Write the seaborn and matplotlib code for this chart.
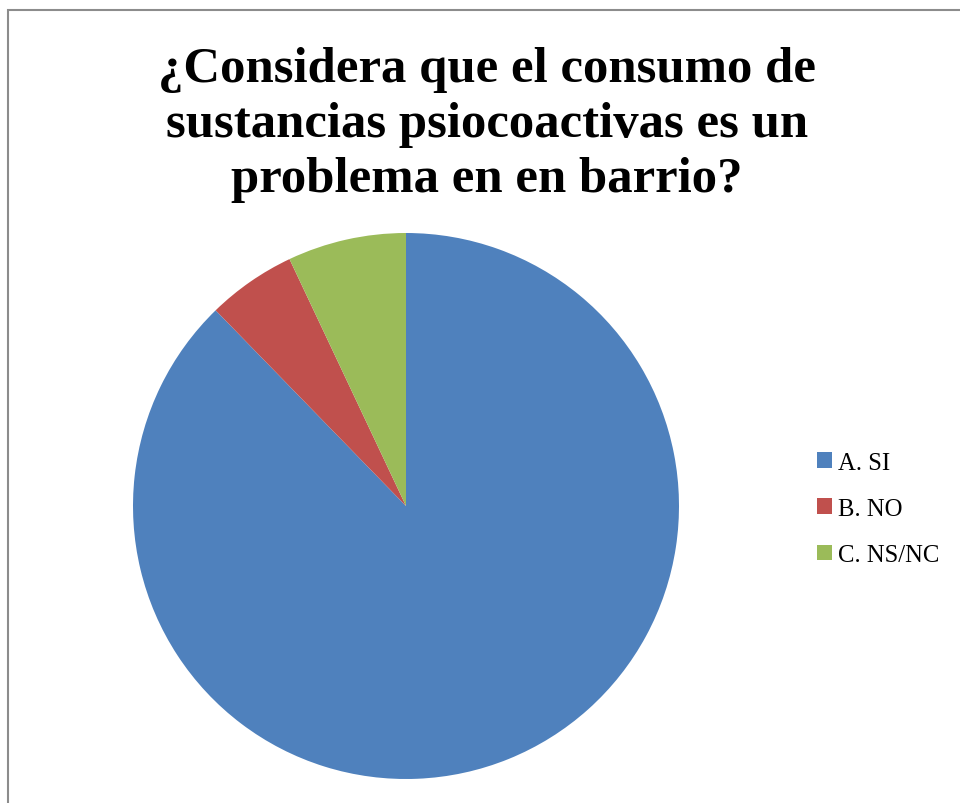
import matplotlib
matplotlib.use("Agg")
import matplotlib.pyplot as plt
import seaborn as sns
from matplotlib.patches import Rectangle, Patch

categories = ["A. SI", "B. NO", "C. NS/NC"]
counts = [50, 3, 4]
colors = ["#4F81BD", "#C0504D", "#9BBB59"]
title = "¿Considera que el consumo de\nsustancias psiocoactivas es un\nproblema en en barrio?"

sns.set_style("white")
plt.rcParams['font.family'] = ['Liberation Serif', 'DejaVu Serif']

fig = plt.figure(figsize=(9.6, 8.04), dpi=100)
W, H = 960, 804

# border
fig.patches.append(Rectangle((8 / W, -0.1), 1.2, (H - 11) / H + 0.1, transform=fig.transFigure,
                             fill=False, edgecolor="#8c8c8c", linewidth=1.5))

cx, cy, r = 406, 507, 273
ax = fig.add_axes([(cx - r) / W, (H - cy - r) / H, 2 * r / W, 2 * r / H])
ax.pie(counts, colors=colors, startangle=90, counterclock=False, radius=1,
       wedgeprops=dict(linewidth=0))
ax.set_xlim(-1, 1)
ax.set_ylim(-1, 1)
ax.set_aspect("equal")
ax.axis("off")

fig.text(487 / W, 1 - 125 / H, title, ha="center", va="center", fontsize=36.5,
         fontweight="bold", linespacing=1.27, color="black")

handles = [Patch(facecolor=c, edgecolor="none") for c in colors]
fig.legend(handles, categories, loc="center left", bbox_to_anchor=(817 / W, 1 - 510 / H),
           frameon=False, fontsize=17.8, handlelength=0.6, handleheight=0.6,
           handletextpad=0.25, labelspacing=0.98, borderpad=0, borderaxespad=0,
           labelcolor="black")

fig.savefig("out.png", dpi=100)
